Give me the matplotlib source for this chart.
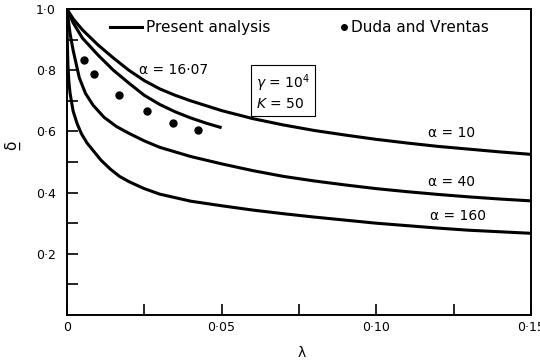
import matplotlib
matplotlib.use("Agg")
import matplotlib.pyplot as plt
from matplotlib.lines import Line2D

# ---- data ----
lam_a10 = [0, 0.002, 0.005, 0.01, 0.015, 0.02, 0.025, 0.03, 0.035, 0.04, 0.05, 0.06,
           0.07, 0.08, 0.09, 0.10, 0.11, 0.12, 0.13, 0.14, 0.15]
d_a10 = [1.0, 0.968, 0.932, 0.883, 0.84, 0.80, 0.766, 0.739, 0.718, 0.70, 0.668, 0.642,
         0.621, 0.603, 0.588, 0.574, 0.562, 0.551, 0.542, 0.533, 0.525]

lam_a16 = [0, 0.002, 0.005, 0.01, 0.015, 0.02, 0.025, 0.03, 0.035, 0.04, 0.045, 0.05]
d_a16 = [1.0, 0.955, 0.905, 0.85, 0.80, 0.758, 0.718, 0.688, 0.664, 0.644, 0.627, 0.612]

lam_a40 = [0, 0.001, 0.002, 0.004, 0.006, 0.0085, 0.012, 0.016, 0.02, 0.025, 0.03, 0.04,
           0.05, 0.06, 0.07, 0.08, 0.09, 0.10, 0.11, 0.12, 0.13, 0.14, 0.15]
d_a40 = [1.0, 0.92, 0.865, 0.775, 0.724, 0.685, 0.646, 0.616, 0.594, 0.569, 0.548, 0.518,
         0.494, 0.472, 0.453, 0.438, 0.425, 0.413, 0.403, 0.394, 0.386, 0.379, 0.373]

lam_a160 = [0, 0.0001, 0.0003, 0.0006, 0.001, 0.002, 0.0033, 0.0047, 0.0065, 0.0085, 0.011,
            0.014, 0.017, 0.02, 0.025, 0.03, 0.04, 0.05, 0.06, 0.07, 0.08, 0.09, 0.10,
            0.11, 0.12, 0.13, 0.14, 0.15]
d_a160 = [1.0, 0.90, 0.82, 0.765, 0.725, 0.666, 0.625, 0.592, 0.562, 0.537, 0.506,
          0.477, 0.453, 0.436, 0.413, 0.395, 0.372, 0.357, 0.343, 0.331, 0.320, 0.310,
          0.300, 0.292, 0.284, 0.277, 0.272, 0.267]

lam_duda = [0.0055, 0.0088, 0.0169, 0.0258, 0.0344, 0.0425]
d_duda = [0.832, 0.787, 0.72, 0.668, 0.628, 0.604]

xticks_major = [0, 0.05, 0.10, 0.15]
xtick_labels = ["0", "0·05", "0·10", "0·15"]
xticks_minor = [0.025, 0.075, 0.125]
yticks_major = [0.2, 0.4, 0.6, 0.8, 1.0]
ytick_labels = ["0·2", "0·4", "0·6", "0·8", "1·0"]
yticks_minor = [0.1, 0.3, 0.5, 0.7, 0.9]

# ---- figure ----
plt.rcParams['font.family'] = ['DejaVu Sans']
fig = plt.figure(figsize=(5.4, 3.6), dpi=100)
ax = fig.add_axes([0.124, 0.125, 0.859, 0.85])

lw = 2.2
for lx, ly in [(lam_a10, d_a10), (lam_a16, d_a16), (lam_a40, d_a40), (lam_a160, d_a160)]:
    ax.plot(lx, ly, color='black', lw=lw, solid_capstyle='butt', solid_joinstyle='round')
ax.plot(lam_duda, d_duda, 'o', color='black', ms=5)

ax.set_xlim(0, 0.15)
ax.set_ylim(0, 1.0)

for s in ax.spines.values():
    s.set_linewidth(1.4)

ax.set_xticks(xticks_major)
ax.set_xticklabels(xtick_labels, fontsize=9)
ax.set_xticks(xticks_minor, minor=True)
ax.set_yticks(yticks_major)
ax.set_yticklabels(ytick_labels, fontsize=9)
ax.set_yticks(yticks_minor, minor=True)
ax.tick_params(axis='both', which='both', direction='in', length=8, width=1.2)
ax.tick_params(axis='y', which='both', pad=8)
ax.tick_params(axis='x', which='both', pad=4)
ax.tick_params(top=False, right=False)

ax.set_xlabel("λ", fontsize=10)
ax.xaxis.set_label_coords(0.506, -0.10)
ax.set_ylabel("\u03b4\u0332", fontsize=11)
ax.yaxis.set_label_coords(-0.10, 0.556)

# legends
h1 = [Line2D([], [], color='black', lw=lw)]
leg1 = ax.legend(h1, ["Present analysis"], loc='center left',
                 bbox_to_anchor=(0.093, 0.94), frameon=False, fontsize=11,
                 handlelength=2.1, handletextpad=0.25, borderpad=0, borderaxespad=0)
ax.add_artist(leg1)
h2 = [Line2D([], [], color='black', marker='o', ls='none', ms=4)]
ax.legend(h2, ["Duda and Vrentas"], loc='center left',
          bbox_to_anchor=(0.59, 0.94), frameon=False, fontsize=11,
          handlelength=0.5, handletextpad=0.15, borderpad=0, borderaxespad=0)

# curve labels
ax.text(0.0232, 0.80, "α = 16·07", fontsize=10, ha='left', va='center')
ax.text(0.1245, 0.595, "α = 10", fontsize=10, ha='center', va='center')
ax.text(0.1245, 0.435, "α = 40", fontsize=10, ha='center', va='center')
ax.text(0.1265, 0.325, "α = 160", fontsize=10, ha='center', va='center')
ax.text(0.0612, 0.73, "$\\gamma$ = 10$^4$\n$K$ = 50", fontsize=10, ha='left', va='center',
        linespacing=1.25,
        bbox=dict(boxstyle='square,pad=0.35', fc='white', ec='black', lw=0.8))

fig.savefig("out.png", dpi=100)
